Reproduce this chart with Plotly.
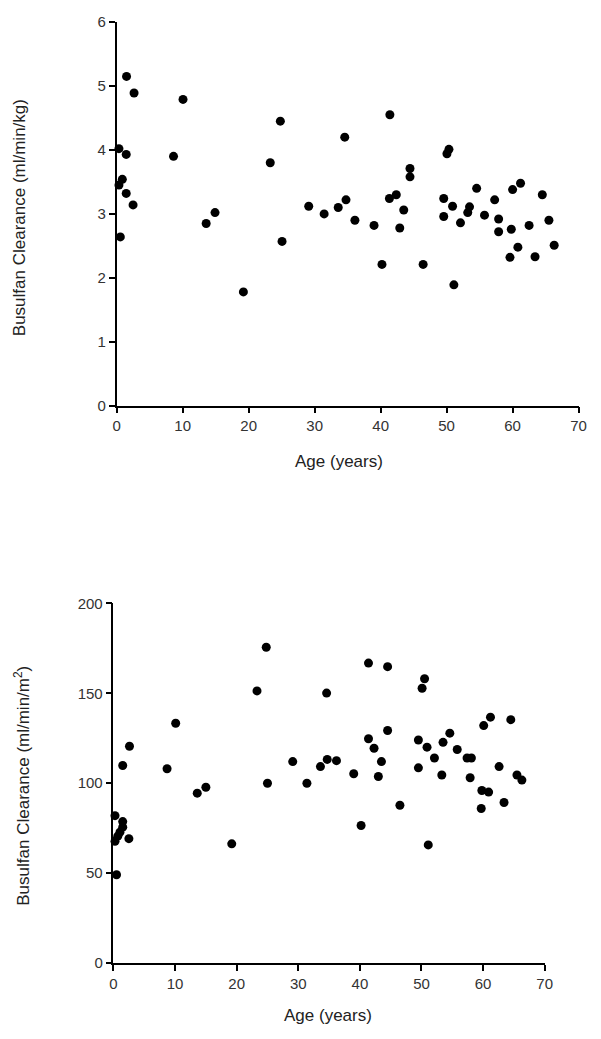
import plotly.graph_objects as go

# Busulfan clearance vs age, per kg (top) and per m2 (bottom)
age_kg = [1.49, 2.63, 10.05, 24.8, 0.34, 1.44, 8.61, 23.27, 0.85, 0.34, 1.44, 2.48,
          14.9, 13.56, 0.55, 19.2, 25.06, 41.4, 34.56, 50.35, 50.05, 44.45, 44.45,
          54.55, 61.2, 60.0, 64.5, 29.1, 31.44, 33.57, 34.75, 36.1, 39.0, 41.33,
          42.37, 43.5, 42.9, 40.2, 46.44, 51.1, 49.56, 49.56, 50.9, 52.1, 53.47,
          53.2, 55.74, 57.28, 57.88, 57.88, 59.8, 60.8, 59.6, 62.5, 63.4, 65.5, 66.3]
cl_kg = [5.15, 4.89, 4.79, 4.45, 4.02, 3.93, 3.90, 3.80, 3.54, 3.45, 3.32, 3.14,
         3.02, 2.85, 2.64, 1.78, 2.57, 4.55, 4.20, 4.01, 3.94, 3.71, 3.58,
         3.40, 3.48, 3.38, 3.30, 3.12, 3.00, 3.10, 3.22, 2.90, 2.82, 3.24,
         3.30, 3.06, 2.78, 2.21, 2.21, 1.89, 3.24, 2.96, 3.12, 2.86, 3.11,
         3.02, 2.98, 3.22, 2.92, 2.72, 2.76, 2.48, 2.32, 2.82, 2.33, 2.90, 2.51]

age_m2 = [24.8, 23.3, 10.1, 2.6, 1.5, 8.7, 29.1, 25.0, 13.6, 15.0, 19.2,
          0.25, 1.5, 1.5, 1.05, 0.7, 2.5, 0.25, 0.5,
          41.4, 44.5, 50.5, 50.1, 34.6, 61.2, 64.5, 60.1, 44.5, 54.6, 41.4, 49.5,
          53.5, 42.3, 50.9, 55.8, 34.7, 36.2, 43.5, 52.1, 57.4, 58.1, 33.6, 62.6,
          49.5, 31.4, 39.0, 43.0, 53.3, 57.9, 65.5, 66.3, 59.8, 60.9, 63.4, 59.7,
          46.5, 40.2, 51.1]
cl_m2 = [175.6, 151.3, 133.3, 120.5, 109.8, 108.0, 112.0, 99.9, 94.4, 97.7, 66.2,
         81.9, 78.6, 75.5, 72.7, 70.5, 69.1, 67.6, 49.0,
         166.8, 164.8, 158.1, 152.8, 150.1, 136.7, 135.3, 132.0, 129.3, 127.8, 124.7, 124.0,
         122.7, 119.4, 120.0, 118.7, 113.2, 112.5, 112.0, 114.0, 114.0, 114.0, 109.2, 109.2,
         108.5, 99.9, 105.2, 103.7, 104.5, 103.0, 104.5, 101.7, 95.9, 95.0, 89.2, 85.9,
         87.7, 76.4, 65.6]

x_ticks = [0, 10, 20, 30, 40, 50, 60, 70]
y_ticks_kg = [0, 1, 2, 3, 4, 5, 6]
y_ticks_m2 = [0, 50, 100, 150, 200]

W, H = 601, 1039
FONT = "Liberation Sans, Arial, sans-serif"

def px_x(p):
    return p / W

def px_y(p):
    return 1 - p / H

fig = go.Figure()
marker = dict(color="black", size=9, line=dict(width=0))
fig.add_trace(go.Scatter(x=age_kg, y=cl_kg, mode="markers", marker=marker,
                         xaxis="x", yaxis="y", cliponaxis=False, showlegend=False))
fig.add_trace(go.Scatter(x=age_m2, y=cl_m2, mode="markers", marker=marker,
                         xaxis="x2", yaxis="y2", cliponaxis=False, showlegend=False))

axis_style = dict(showgrid=False, zeroline=False, showline=True, linecolor="black",
                  linewidth=1.5, ticks="outside", ticklen=6, tickwidth=1.5,
                  tickcolor="black", ticklabeloverflow="allow",
                  tickfont=dict(family=FONT, size=15, color="#333"))

fig.update_layout(
    width=W, height=H,
    margin=dict(l=0, r=0, t=0, b=0),
    paper_bgcolor="white", plot_bgcolor="white",
    xaxis=dict(domain=[px_x(115), px_x(586.3)], range=[0, 70], tickvals=x_ticks,
               anchor="y", **axis_style),
    yaxis=dict(domain=[px_y(403.3), px_y(13.3)], range=[0, 6], tickvals=y_ticks_kg,
               anchor="x", **axis_style),
    xaxis2=dict(domain=[px_x(111.7), px_x(551.7)], range=[0, 70], tickvals=x_ticks,
                anchor="y2", **axis_style),
    yaxis2=dict(domain=[px_y(969.7), px_y(604.3)], range=[0, 200], tickvals=y_ticks_m2,
                anchor="x2", **axis_style),
)

title_font = dict(family=FONT, size=17, color="#222")
annots = [
    dict(text="Age (years)", x=px_x(342), y=px_y(460)),
    dict(text="Age (years)", x=px_x(331), y=px_y(1023)),
    dict(text="Busulfan Clearance (ml/min/kg)", x=px_x(16), y=px_y(212), textangle=-90),
    dict(text="Busulfan Clearance (ml/min/m<sup>2</sup>)", x=px_x(18), y=px_y(790), textangle=-90),
]
for a in annots:
    fig.add_annotation(xref="paper", yref="paper", showarrow=False,
                       xanchor="center", yanchor="middle", font=title_font, **a)

# page body has a default 8px margin, drop it so the figure sits at the window origin
fig.write_html("out.html", config={"displayModeBar": False},
               post_script="document.body.style.margin='0';")
